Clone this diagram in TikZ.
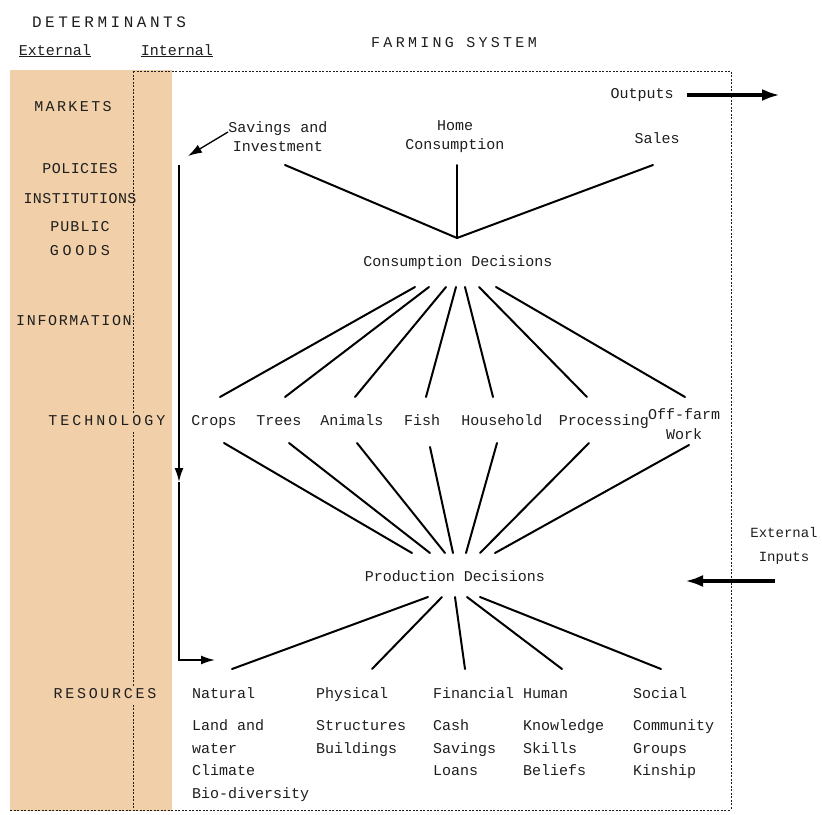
\documentclass[tikz,border=0pt]{standalone}
\usepackage{fontspec}
\setmainfont{Liberation Mono}
\usetikzlibrary{arrows.meta}
\definecolor{tanfill}{RGB}{241,207,168}
\definecolor{ink}{RGB}{30,30,30}
\newcommand{\LS}[1]{\addfontfeature{LetterSpace=#1}}
\begin{document}
\begin{tikzpicture}[x=1pt,y=-1pt,
  every node/.style={inner sep=0pt, text=ink},
  base/.style={font=\fontsize{15}{17}\selectfont},
  txt/.style={base, text height=10pt, text depth=3pt},
  lft/.style={txt, anchor=west},
  cap/.style={font=\fontsize{15}{17}\selectfont\LS{#1}, text height=10pt, text depth=3pt},
  fan/.style={draw=black, line width=2pt, line cap=round},
  bound/.style={draw=ink, line width=0.8pt, dash pattern=on 2pt off 1.5pt},
  fatarrow/.style={draw=black, line width=4.5pt, -{Latex[length=18pt,width=12pt]}},
  tip/.style={-{Latex[length=14pt,width=9pt]}},
  flow/.style={draw=black, line width=1.8pt}]
\useasboundingbox (0,0) rectangle (822,814);
\fill[white] (0,0) rectangle (822,814);
% background band
\fill[tanfill] (10,70) rectangle (172,811);
% boundaries
\coordinate (tl) at (133,71);
\coordinate (tr) at (731,71);
\coordinate (br) at (731,810);
\coordinate (bl) at (133,810);
\coordinate (bll) at (10,810);
\draw[bound] (tl) -- (tr) -- (br);
\draw[bound] (tl) -- (bl);
\draw[bound] (bll) -- (br);

% headings
\node[font=\fontsize{16}{18}\selectfont\LS{22}] (det) at (109,22) {DETERMINANTS};
\node[txt] (ext) at (55,52) {External};
\node[txt] (int) at (177,52) {Internal};
\draw[ink, line width=0.8pt] ([yshift=-1pt]ext.base west) -- ([yshift=-1pt]ext.base east);
\draw[ink, line width=0.8pt] ([yshift=-1pt]int.base west) -- ([yshift=-1pt]int.base east);
\node[cap=22] (fs) at (454,44) {FARMING SYSTEM};

% determinants
\node[cap=16] (markets) at (73,108) {MARKETS};
\node[cap=3] (policies) at (80,170) {POLICIES};
\node[cap=3] (institutions) at (80,200) {INSTITUTIONS};
\node[cap=7] (public) at (80,228) {PUBLIC};
\node[cap=25] (goods) at (80,252) {GOODS};
\node[cap=11] (information) at (74,322) {INFORMATION};
\node[cap=20, fill=tanfill, inner ysep=3pt] (technology) at (107,422) {TECHNOLOGY};
\node[cap=18, fill=tanfill, inner ysep=3pt] (resources) at (105,695) {RESOURCES};

% outputs
\node[txt] (outputs) at (642,95) {Outputs};
\coordinate (outS) at (687,95);
\coordinate (outE) at (780,95);
\draw[fatarrow] (outS) -- (outE);

% external inputs
\node[font=\fontsize{14}{16}\selectfont, align=center] (extin) at (784,546) {External\\[8pt]Inputs};
\coordinate (inS) at (775,581);
\coordinate (inE) at (685,581);
\draw[fatarrow] (inS) -- (inE);

% consumption uses
\node[base, align=center] (savings) at (278,137) {Savings and\\[2pt]Investment};
\node[base, align=center] (home) at (455,137) {Home\\[2pt]Consumption};
\node[txt] (sales) at (657,140) {Sales};
\coordinate (savE) at (285,165);
\coordinate (homeE) at (457,165);
\coordinate (salesE) at (653,165);
\coordinate (hub1) at (457,238);
\draw[fan] (savE) -- (hub1) -- (salesE);
\draw[fan] (homeE) -- (hub1);

\node[txt] (cons) at (458,263) {Consumption Decisions};

% savings arrow
\coordinate (arrS) at (228,132);
\coordinate (arrE) at (188,156);
\draw[black, line width=1.3pt, tip] (arrS) -- (arrE);

% vertical flow
\coordinate (vtop) at (179,165);
\coordinate (vmid) at (179,482);
\coordinate (vcorner) at (179,660);
\coordinate (vend) at (215,660);
\draw[flow, tip] (vtop) -- (vmid);
\draw[flow, tip] (vmid) -- (vcorner) -- (vend);

% activities
\node[txt] (crops) at (214,422) {Crops};
\node[txt] (trees) at (279,422) {Trees};
\node[txt] (animals) at (352,422) {Animals};
\node[txt] (fish) at (422,422) {Fish};
\node[txt] (household) at (502,422) {Household};
\node[txt] (processing) at (604,422) {Processing};
\node[base, align=center] (offfarm) at (684,424) {Off-farm\\[3pt]Work};

% consumption -> activities
\foreach \n/\xa/\xb in {crops/415/220, trees/429/285, animals/446/355, fish/456/426,
                        household/465/493, processing/479/587, offfarm/496/685}{
  \coordinate (c-\n) at (\xa,287);
  \coordinate (a-\n) at (\xb,397);
  \draw[fan] (c-\n) -- (a-\n);
}

\node[txt] (prod) at (455,578) {Production Decisions};

% activities -> production
\foreach \n/\xa/\ya/\xb in {crops/224/443/412, trees/289/443/430, animals/357/443/445,
                        fish/430/447/453, household/497/443/466, processing/589/443/480,
                        offfarm/689/445/495}{
  \coordinate (s-\n) at (\xa,\ya);
  \coordinate (p-\n) at (\xb,553);
  \draw[fan] (s-\n) -- (p-\n);
}

% resources
\node[lft] (natural) at (192,695) {Natural};
\node[lft] (physical) at (316,695) {Physical};
\node[lft] (financial) at (433,695) {Financial};
\node[lft] (human) at (523,695) {Human};
\node[lft] (social) at (633,695) {Social};

\foreach \n/\xa/\xb in {natural/428/232, physical/442/372, financial/455/465,
                        human/467/562, social/480/661}{
  \coordinate (q-\n) at (\xa,597);
  \coordinate (r-\n) at (\xb,669);
  \draw[fan] (q-\n) -- (r-\n);
}

\node[lft] (nat1) at (192,727) {Land and};
\node[lft] (nat2) at (192,750) {water};
\node[lft] (nat3) at (192,772) {Climate};
\node[lft] (nat4) at (192,795) {Bio-diversity};
\node[lft] (phy1) at (316,727) {Structures};
\node[lft] (phy2) at (316,750) {Buildings};
\node[lft] (fin1) at (433,727) {Cash};
\node[lft] (fin2) at (433,750) {Savings};
\node[lft] (fin3) at (433,772) {Loans};
\node[lft] (hum1) at (523,727) {Knowledge};
\node[lft] (hum2) at (523,750) {Skills};
\node[lft] (hum3) at (523,772) {Beliefs};
\node[lft] (soc1) at (633,727) {Community};
\node[lft] (soc2) at (633,750) {Groups};
\node[lft] (soc3) at (633,772) {Kinship};
\end{tikzpicture}
\end{document}
